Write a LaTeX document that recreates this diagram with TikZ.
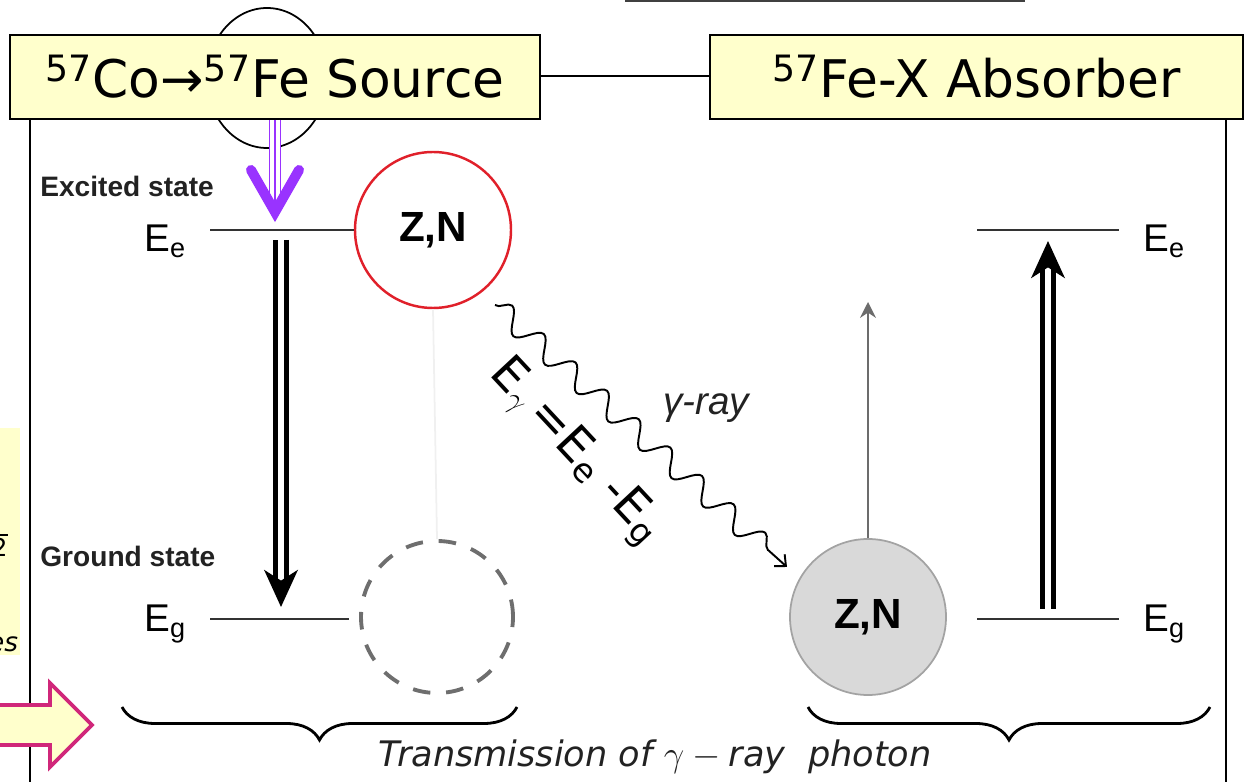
\documentclass[tikz,border=0pt]{standalone}
\usepackage{fontspec}
\setmainfont{Liberation Sans}
\newfontfamily\vfont{DejaVu Sans}
\usetikzlibrary{arrows.meta, positioning, calc, decorations.pathreplacing, decorations.pathmorphing}
\definecolor{c1}{HTML}{000000}
\definecolor{boxfill}{HTML}{FFFFCC}
\definecolor{vio}{HTML}{9933FF}
\definecolor{znred}{HTML}{E0202A}
\definecolor{zngray}{HTML}{D9D9D9}
\definecolor{znedge}{HTML}{A3A3A3}
\definecolor{ghost}{HTML}{6E6E6E}
\definecolor{mag}{HTML}{D0277A}
\definecolor{labelcolor}{HTML}{222222}

\begin{document}
\begin{tikzpicture}[
    hdr/.style={rectangle, draw=c1, fill=boxfill, line width=1.1pt,
                minimum height=1.68cm, inner sep=0pt,
                font=\vfont\fontsize{29.5}{34}\selectfont},
    lvl/.style={line width=1.1pt, color=c1!80},
    elab/.style={anchor=base west, inner sep=0pt, font=\fontsize{22}{26}\selectfont},
    state/.style={anchor=west, inner sep=0pt, text=labelcolor,
                  font=\bfseries\fontsize{16}{19}\selectfont},
    nuc/.style={circle, minimum size=3.12cm, inner sep=0pt,
                font=\bfseries\fontsize{24}{28}\selectfont},
    dbl/.style={line width=2.8pt, double=white, double distance=3pt,
                -{Stealth[length=21pt, width=19pt, inset=6pt]}},
    wave/.style={decorate, decoration={snake, segment length=0.85cm, amplitude=0.22cm,
                 post length=0.3cm}, line width=1.1pt, -{Straight Barb[length=5pt, width=9pt]}},
    brc/.style={decorate, decoration={brace, amplitude=0.66cm, mirror}, line width=1.6pt},
]
\useasboundingbox (0,0) rectangle (24.9,15.64);

% ================================================================ frame and titles
\draw[line width=1.1pt] (0.6,-0.5) rectangle (24.52,14.12);
\draw[line width=1pt, c1!75] (12.5,15.62) -- (20.5,15.62);
\draw[line width=1pt] (5.34,14.08) ellipse (1.2cm and 1.4cm);

\node[hdr, minimum width=10.6cm] (src) at (5.5,14.1)
    {\textsuperscript{57}Co→\textsuperscript{57}Fe Source};
\node[hdr, minimum width=10.66cm] (absb) at (19.53,14.1)
    {\textsuperscript{57}Fe-X Absorber};

% leftovers at the left edge
\fill[boxfill] (-0.2,2.54) rectangle (0.4,7.08);
\node[anchor=base east, inner sep=0pt, font=\vfont\itshape\fontsize{15}{18}\selectfont]
    (rest1) at (0.37,2.6) {es};
\node[anchor=base east, inner sep=0pt, font=\vfont\fontsize{14}{16}\selectfont]
    (rest2) at (0.16,4.5) {2};
\draw[line width=0.6pt] (-0.2,4.94) -- (0.16,4.94);
\draw[draw=mag, fill=boxfill, line width=2.2pt]
    (-0.5,1.54) -- (1.0,1.54) -- (1.0,1.98) -- (1.84,1.14) -- (1.0,0.30)
    -- (1.0,0.74) -- (-0.5,0.74) -- cycle;

% ================================================================ left: the source nucleus
\node[state] (exc) at (0.8,11.92) {Excited state};
\node[state] (gnd) at (0.8,4.52) {Ground state};

\coordinate (e1) at (4.2,11.04);
\coordinate (g1) at (4.2,3.26);
\node[nuc, draw=znred, line width=1.4pt] (zn1) at (8.66,11.04) {Z,N};
\node[nuc, draw=ghost, dash pattern=on 10pt off 9pt, line width=2.2pt,
      minimum size=3.04cm] (void) at (8.74,3.3) {};
\draw[gray!12, line width=1pt] (zn1.south) -- (void.north);

\draw[lvl] (e1) -- (e1 -| zn1.west);
\draw[lvl] (g1) -- ($(g1 -| void.west)+(-0.2,0)$);
\node[elab] (ee1) at (2.88,10.6) {E\textsubscript{e}};
\node[elab] (eg1) at (2.88,3.0) {E\textsubscript{g}};

% decay of the excited level
\coordinate (a1) at (5.62,11.04);
\coordinate (b1) at (5.62,3.26);
\draw[dbl, shorten <=0.2cm, shorten >=0.24cm] (a1) -- (b1);

% feeding from the parent
\coordinate (pv) at (5.5,11.4);
\draw[vio, line width=0.8pt, double=white, double distance=5.2pt] (src.south) -- (pv);
\draw[vio, line width=0.8pt] (src.south) -- (pv);
\draw[vio, line width=5.7pt, line cap=round, miter limit=10]
    (pv) ++(-0.48,0.84) -- (pv) -- ++(0.48,0.84);

% ================================================================ the photon
\coordinate (ws) at (9.9,9.54);
\coordinate (we) at (15.74,4.3);
\draw[wave] (ws) -- (we);
\node[font=\itshape\fontsize{22}{26}\selectfont, text=labelcolor] (gray) at (14.12,7.48) {γ-ray};
\node[rotate=-47, font=\vfont\fontsize{27}{30}\selectfont] (egam) at (11.5,6.6)
    {E\textsubscript{$\gamma$}\,=E\textsubscript{e} -E\textsubscript{g}};

% ================================================================ right: the absorber nucleus
\node[nuc, draw=znedge, fill=zngray, line width=1pt] (zn2) at (17.36,3.3) {Z,N};
\coordinate (up) at (17.36,9.6);
\draw[gray!85!black, line width=1pt, -{Stealth[length=9pt, width=9pt]}] (zn2.north) -- (up);

\coordinate (e2) at (19.54,11.04);
\coordinate (g2) at (19.54,3.26);
\draw[lvl] (e2) -- +(2.84,0);
\draw[lvl] (g2) -- +(2.84,0);
\node[elab] (ee2) at (22.86,10.6) {E\textsubscript{e}};
\node[elab] (eg2) at (22.86,3.0) {E\textsubscript{g}};

\coordinate (a2) at (20.96,3.26);
\coordinate (b2) at (20.96,11.04);
\draw[dbl, shorten <=0.2cm, shorten >=0.22cm] (a2) -- (b2);

% ================================================================ bottom
\draw[brc] (2.44,1.5) -- (10.34,1.5);
\draw[brc] (16.16,1.5) -- (24.2,1.5);
\node[font=\vfont\itshape\fontsize{20}{24}\selectfont, text=labelcolor] (trans) at (13.1,0.5)
    {Transmission of $\gamma-{}$ray\ \ photon};

\end{tikzpicture}
\end{document}
